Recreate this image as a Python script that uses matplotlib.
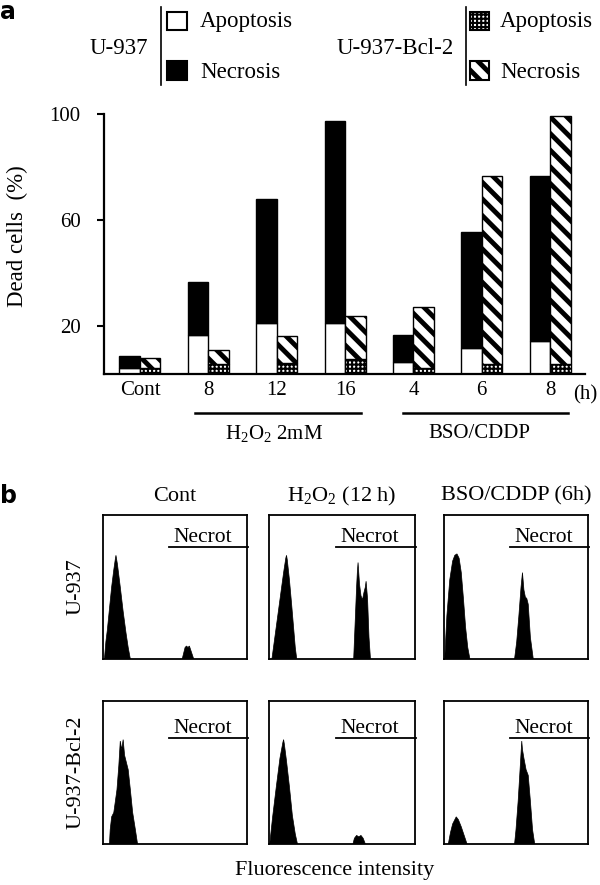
import numpy as np
import matplotlib
matplotlib.use('Agg')
import matplotlib.pyplot as plt
from matplotlib.patches import Rectangle
from matplotlib.transforms import blended_transform_factory

plt.rcParams['font.family'] = ['Liberation Serif', 'DejaVu Serif']
plt.rcParams['mathtext.fontset'] = 'custom'
plt.rcParams['mathtext.rm'] = 'Liberation Serif'
plt.rcParams['mathtext.it'] = 'Liberation Serif:italic'
plt.rcParams['hatch.linewidth'] = 3.5

# panel a: dead cells (%)
groups = ['Cont', '8', '12', '16', '4', '6', '8']
u937_apop = [4.1, 16.5, 21.1, 21.1, 6.2, 11.7, 14.3]
u937_necr = [4.5, 19.8, 46.9, 76.4, 10.3, 43.6, 62.3]
bcl2_apop = [4.0, 5.5, 6.0, 7.3, 4.0, 5.5, 5.5]
bcl2_necr = [3.7, 5.3, 10.2, 16.4, 23.0, 71.1, 93.8]
yticks = [20, 60, 100]

# panel b: flow histograms, (x, height) in box fractions, one list of peaks per panel
cont_u937 = [([0.01, 0.02, 0.03, 0.045, 0.06, 0.075, 0.085, 0.09, 0.1, 0.12, 0.14, 0.16, 0.175, 0.19],
              [0, 0.12, 0.2, 0.35, 0.5, 0.62, 0.69, 0.72, 0.66, 0.5, 0.33, 0.18, 0.08, 0]),
             ([0.55, 0.56, 0.57, 0.58, 0.59, 0.6, 0.61, 0.62, 0.63],
              [0, 0.04, 0.08, 0.09, 0.08, 0.09, 0.06, 0.03, 0])]
h2o2_u937 = [([0.02, 0.04, 0.06, 0.08, 0.1, 0.115, 0.12, 0.125, 0.14, 0.155, 0.17, 0.18, 0.19],
              [0, 0.15, 0.3, 0.45, 0.6, 0.7, 0.72, 0.69, 0.55, 0.38, 0.2, 0.08, 0]),
             ([0.58, 0.59, 0.6, 0.605, 0.61, 0.62, 0.63, 0.64, 0.65, 0.66, 0.665, 0.675, 0.685, 0.695],
              [0, 0.25, 0.5, 0.6, 0.67, 0.52, 0.44, 0.41, 0.46, 0.5, 0.54, 0.42, 0.15, 0])]
bso_u937 = [([0.005, 0.02, 0.04, 0.06, 0.075, 0.09, 0.105, 0.12, 0.135, 0.15, 0.165, 0.18],
             [0, 0.3, 0.55, 0.68, 0.72, 0.73, 0.7, 0.6, 0.42, 0.22, 0.08, 0]),
            ([0.49, 0.505, 0.52, 0.535, 0.545, 0.555, 0.565, 0.575, 0.585, 0.6, 0.62],
             [0, 0.12, 0.3, 0.5, 0.6, 0.48, 0.43, 0.42, 0.38, 0.15, 0])]
cont_bcl2 = [([0.045, 0.05, 0.06, 0.075, 0.097, 0.11, 0.12, 0.13, 0.14, 0.15, 0.175, 0.19, 0.206, 0.225, 0.24],
              [0, 0.1, 0.19, 0.22, 0.38, 0.55, 0.72, 0.66, 0.73, 0.62, 0.52, 0.38, 0.22, 0.1, 0])]
h2o2_bcl2 = [([0.005, 0.025, 0.05, 0.075, 0.095, 0.1, 0.105, 0.12, 0.14, 0.16, 0.18, 0.195],
              [0, 0.19, 0.4, 0.6, 0.71, 0.73, 0.7, 0.58, 0.4, 0.2, 0.07, 0]),
             ([0.575, 0.585, 0.6, 0.615, 0.63, 0.645, 0.66],
              [0, 0.04, 0.06, 0.05, 0.06, 0.04, 0])]
bso_bcl2 = [([0.03, 0.045, 0.06, 0.075, 0.085, 0.1, 0.12, 0.14, 0.16],
             [0, 0.08, 0.14, 0.17, 0.19, 0.17, 0.12, 0.06, 0]),
            ([0.49, 0.5, 0.515, 0.53, 0.54, 0.545, 0.555, 0.57, 0.585, 0.6, 0.615, 0.63],
             [0, 0.1, 0.3, 0.55, 0.72, 0.66, 0.6, 0.52, 0.48, 0.3, 0.1, 0])]
col_titles = ['Cont', r'H$_2$O$_2$ (12 h)', 'BSO/CDDP (6h)']
row_titles = ['U-937', 'U-937-Bcl-2']


def set_hlw(bars, lw):
    for p in bars:
        if hasattr(p, 'set_hatch_linewidth'):
            p.set_hatch_linewidth(lw)


W, H = 600, 885
fig = plt.figure(figsize=(6, 8.85), dpi=100)

# overlay in pixel coords for the legend and labels
ov = fig.add_axes([0, 0, 1, 1])
ov.set_xlim(0, W)
ov.set_ylim(H, 0)
ov.axis('off')

ov.text(0, 0, 'a', fontsize=17, fontweight='bold', family='DejaVu Sans', va='top', ha='left')
ov.text(0, 496, 'b', fontsize=17, fontweight='bold', family='DejaVu Sans', va='center', ha='left')

# legend
ov.text(148, 48, 'U-937', fontsize=16.5, ha='right', va='center')
ov.plot([161, 161], [7, 85], color='k', lw=1.2)
ov.add_patch(Rectangle((167, 12), 20, 18, fc='white', ec='k', lw=1.5))
ov.add_patch(Rectangle((167, 61), 20, 19, fc='black', ec='k', lw=1.5))
ov.text(200, 22, 'Apoptosis', fontsize=16.5, va='center')
ov.text(200, 73, 'Necrosis', fontsize=16.5, va='center')

ov.text(454, 48, 'U-937-Bcl-2', fontsize=16.5, ha='right', va='center')
ov.plot([466, 466], [7, 85], color='k', lw=1.2)
r1 = Rectangle((470, 12), 19, 18, fc='white', ec='k', lw=1.5, hatch='++++')
r2 = Rectangle((470, 61), 19, 19, fc='white', ec='k', lw=1.5, hatch='\\\\')
ov.add_patch(r1)
ov.add_patch(r2)
set_hlw([r1], 1.5)
set_hlw([r2], 3.5)
ov.text(500, 22, 'Apoptosis', fontsize=16.5, va='center')
ov.text(500, 73, 'Necrosis', fontsize=16.5, va='center')

ov.text(17, 236, 'Dead cells  (%)', fontsize=16.5, rotation=90, ha='center', va='center')

# bar chart
ax = fig.add_axes([104 / W, 1 - 374 / H, 481 / W, 260 / H])
x = np.arange(len(groups))
bw = 0.3
ua = ax.bar(x - bw / 2, u937_apop, bw, color='white', edgecolor='k', lw=1.0)
un = ax.bar(x - bw / 2, u937_necr, bw, bottom=u937_apop, color='black', edgecolor='k', lw=1.0)
ba = ax.bar(x + bw / 2, bcl2_apop, bw, color='white', edgecolor='k', lw=1.0, hatch='++++')
bn = ax.bar(x + bw / 2, bcl2_necr, bw, bottom=bcl2_apop, color='white', edgecolor='k', lw=1.0, hatch='\\\\')
set_hlw(ba, 1.5)
set_hlw(bn, 3.5)

ax.set_xlim(-0.526, 6.51)
ax.set_ylim(1.7, 100)
ax.set_yticks(yticks)
ax.set_xticks(x)
ax.set_xticklabels(groups)
for s in ['top', 'right']:
    ax.spines[s].set_visible(False)
for s in ['left', 'bottom']:
    ax.spines[s].set_linewidth(1.6)
ax.tick_params(axis='y', direction='out', length=5, width=1.5, pad=12, labelsize=15)
ax.tick_params(axis='x', length=0, pad=5, labelsize=15)

tr = blended_transform_factory(ax.transData, ax.transAxes)
ax.text(6.33, -0.08, '(h)', transform=tr, fontsize=15, ha='left', va='center')
ax.plot([x[1] - 0.2, x[3] + 0.23], [-0.15, -0.15], color='k', lw=1.8, transform=tr, clip_on=False)
ax.plot([x[4] - 0.15, x[6] + 0.26], [-0.15, -0.15], color='k', lw=1.8, transform=tr, clip_on=False)
ax.text(x[2] - 0.04, -0.227, r'H$_2$O$_2$ 2mM', transform=tr, fontsize=15, ha='center', va='center')
ax.text(x[5] - 0.04, -0.227, 'BSO/CDDP', transform=tr, fontsize=15, ha='center', va='center')

# flow histograms
panels = [[cont_u937, h2o2_u937, bso_u937], [cont_bcl2, h2o2_bcl2, bso_bcl2]]
col_x = [(103, 144), (269, 146), (444, 144)]
row_y = [(515, 144), (701, 143)]
necrot_y = [(0.847, 0.78), (0.81, 0.74)]
for r in range(2):
    for c in range(3):
        x0, w = col_x[c]
        y0, h = row_y[r]
        hx = fig.add_axes([x0 / W, 1 - (y0 + h) / H, w / W, h / H])
        for px, py in panels[r][c]:
            hx.fill(px, py, color='black', lw=0.5)
        hx.set_xlim(0, 1)
        hx.set_ylim(0, 1)
        hx.set_xticks([])
        hx.set_yticks([])
        for s in hx.spines.values():
            s.set_linewidth(1.3)
        ty, ly = necrot_y[r]
        hx.text(0.69, ty, 'Necrot', fontsize=15.5, ha='center', va='center')
        hx.plot([0.46, 1.01], [ly, ly], color='k', lw=1.3, clip_on=False)
        if r == 0:
            hx.text(0.5, 1.13, col_titles[c], transform=hx.transAxes, fontsize=16,
                    ha='center', va='center')
        if c == 0:
            hx.text(-0.19, 0.5, row_titles[r], transform=hx.transAxes, fontsize=16,
                    rotation=90, ha='center', va='center')

ov.text(335, 871, 'Fluorescence intensity', fontsize=16, ha='center', va='center')

fig.savefig('out.png', dpi=100)
